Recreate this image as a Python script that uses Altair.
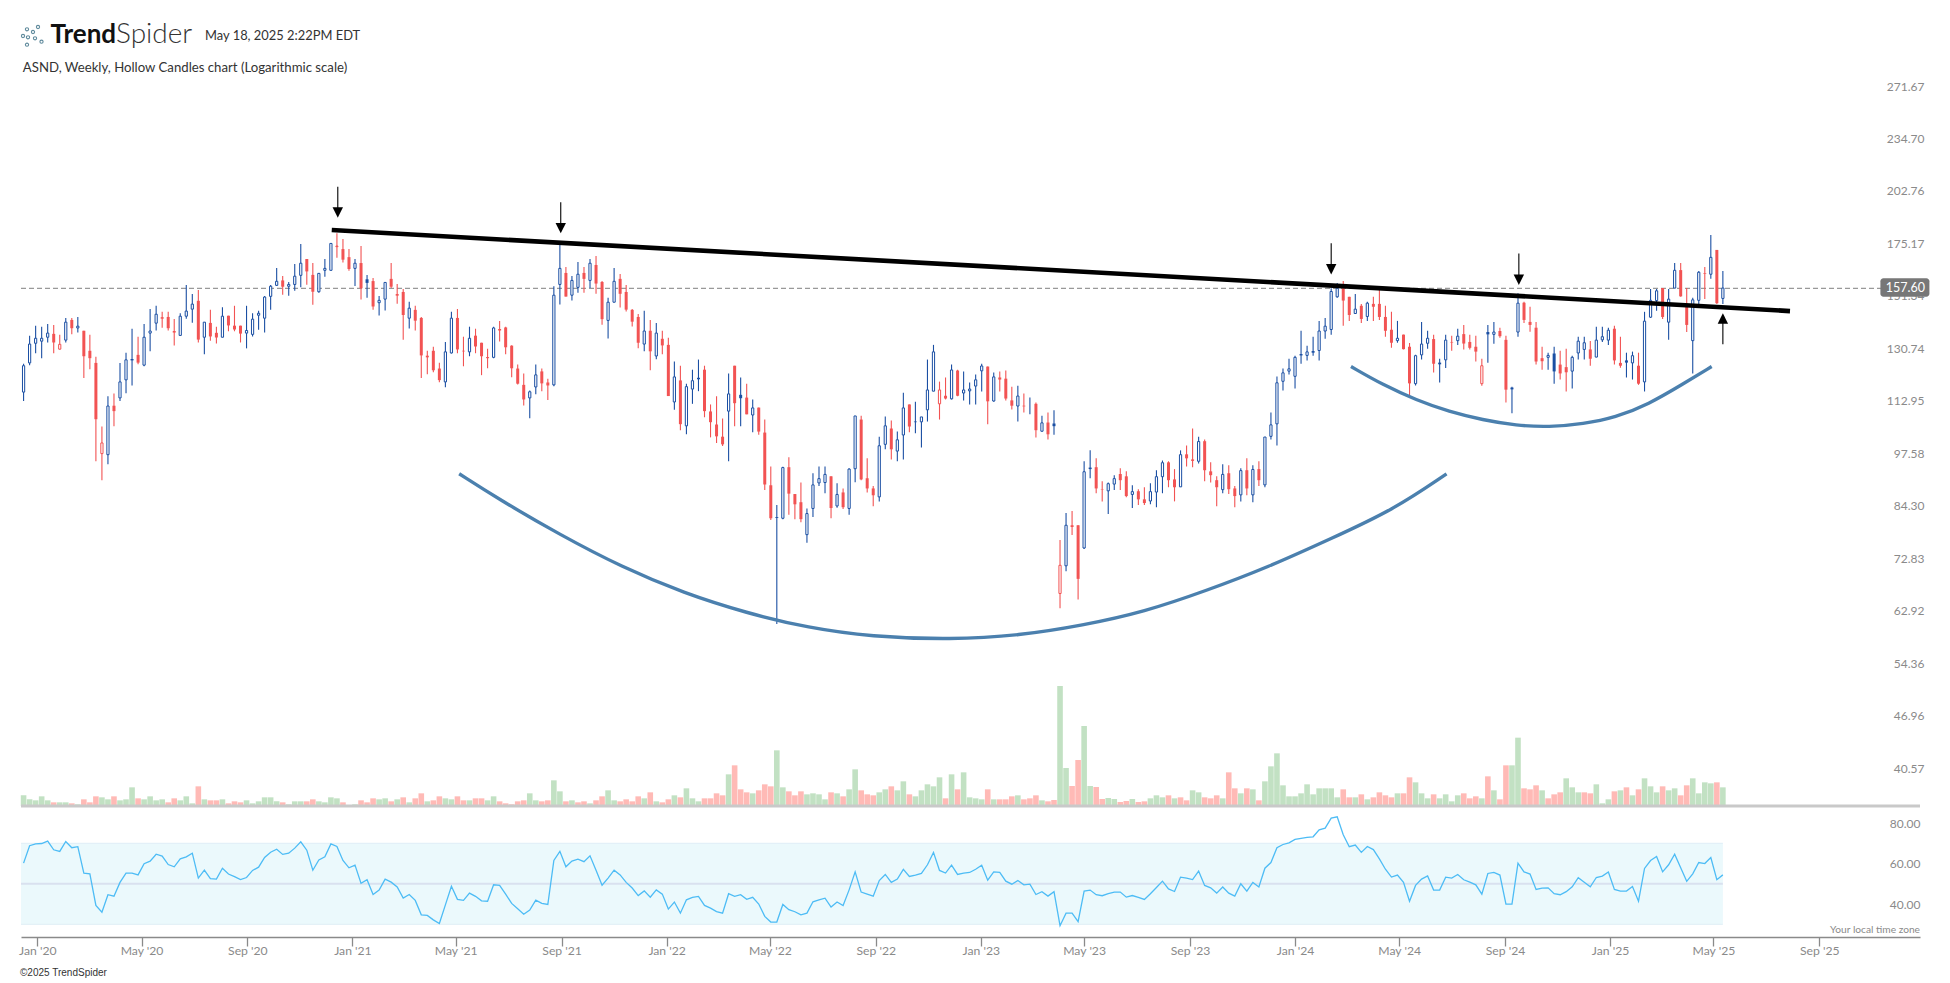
import altair as alt
import pandas as pd

FONT = "Lato"

highs = [
127.7,138.1,142.0,141.6,142.7,142.3,138.5,145.1,145.1,145.5,
140.0,138.5,130.2,107.2,116.6,117.5,128.0,131.7,140.8,137.7,
142.7,148.8,150.1,147.6,147.6,144.7,147.0,159.0,155.1,156.8,
143.4,148.4,141.6,149.5,146.0,150.1,142.0,150.1,147.0,148.0,
154.3,159.0,166.8,163.1,160.4,168.6,178.3,171.0,169.1,164.3,
171.0,178.6,183.7,180.8,175.8,171.0,177.3,163.6,162.2,154.3,
160.2,169.1,159.5,157.3,151.8,150.1,145.5,132.4,133.9,128.1,
135.7,147.6,148.8,137.7,141.6,140.8,135.4,133.2,141.6,143.9,
141.6,134.5,127.4,124.3,118.5,127.4,126.0,122.5,158.5,178.3,
167.2,163.1,169.6,167.2,171.0,172.4,160.8,153.5,166.8,164.0,
159.0,148.8,146.7,148.0,144.3,143.1,140.0,137.3,128.5,127.0,
120.8,125.6,129.2,127.0,114.0,116.6,109.6,124.3,127.0,122.9,
120.8,115.6,113.0,109.3,95.9,86.1,95.8,98.4,88.8,91.7,
85.3,94.1,95.9,95.9,93.3,91.5,90.2,95.4,110.4,110.5,
98.1,90.8,104.2,110.2,109.0,105.7,117.8,114.0,114.9,110.1,
129.2,134.6,121.5,122.9,127.4,125.6,125.0,121.2,123.9,127.7,
126.7,124.6,125.0,125.3,119.8,120.1,117.5,116.2,114.6,110.5,
111.5,112.2,78.1,84.2,84.7,81.4,97.3,100.3,98.1,92.0,
91.7,93.6,95.4,94.6,91.0,90.0,90.5,91.5,94.9,97.5,
97.3,95.2,100.3,101.7,106.6,104.2,103.4,97.0,93.3,96.5,
96.2,90.8,95.4,98.1,96.2,97.3,104.1,111.5,123.2,126.0,
129.5,130.6,140.0,134.3,137.7,143.9,145.1,157.6,160.0,160.8,
153.9,155.1,150.9,151.8,153.9,156.8,150.1,147.6,143.9,138.5,
135.3,130.9,143.5,140.0,138.5,129.5,138.5,138.1,140.8,142.3,
138.5,138.1,129.5,142.3,143.5,141.2,138.1,119.8,155.4,151.8,
149.7,143.5,133.9,131.7,133.9,132.4,133.2,130.6,137.7,137.7,
136.1,141.6,141.6,141.2,142.0,137.7,131.7,132.1,131.7,147.6,
157.3,157.3,157.7,157.3,169.1,169.1,157.7,153.5,165.4,167.2,
182.9,175.4,165.4]

lows = [
115.1,127.2,131.5,129.7,135.5,131.5,132.9,135.5,138.6,139.3,
122.7,125.8,97.3,92.3,96.5,107.3,115.1,117.6,120.2,127.5,
126.8,132.2,140.1,141.2,140.1,134.4,138.2,144.8,143.2,135.5,
131.1,136.2,135.1,137.5,139.8,139.8,135.5,133.3,137.8,140.4,
139.3,148.5,158.6,154.8,154.4,156.5,158.1,159.2,150.5,155.7,
162.8,165.7,171.6,169.3,165.5,158.6,152.7,153.5,148.5,146.1,
148.1,157.7,151.0,136.5,140.9,140.1,122.7,124.0,124.7,121.3,
119.6,131.4,131.5,126.8,130.4,131.5,123.7,126.1,129.7,135.9,
131.1,123.0,120.5,113.7,109.7,117.3,118.3,115.4,119.9,150.6,
154.0,152.3,155.7,155.7,157.7,155.2,142.4,137.0,151.6,149.4,
147.7,141.7,133.3,132.2,125.4,129.3,131.1,116.7,112.3,106.1,
104.9,114.2,118.3,110.0,104.0,102.4,101.5,97.3,107.3,107.3,
110.9,105.5,104.8,89.8,82.6,61.8,82.8,83.8,82.8,82.1,
77.5,83.3,90.8,89.0,83.0,85.5,85.2,83.8,91.8,92.3,
89.2,85.8,87.0,100.6,97.8,97.3,97.8,105.5,105.2,101.1,
108.7,118.3,109.3,115.6,115.6,116.6,115.3,114.0,114.0,118.2,
107.9,114.9,118.2,115.3,112.4,108.7,111.5,110.9,104.0,105.7,
103.4,104.8,64.6,71.6,79.2,66.2,76.2,92.8,89.0,87.0,
84.0,89.8,89.8,88.0,85.4,86.1,86.1,86.3,85.6,89.0,
90.5,87.0,90.6,95.9,95.7,96.7,92.0,91.7,85.8,89.0,
88.8,85.6,87.0,88.5,86.8,90.8,90.5,103.4,101.7,118.5,
123.9,119.2,127.7,128.9,130.6,128.9,136.9,138.5,153.5,142.0,
143.9,146.7,143.1,143.9,143.9,144.3,137.7,133.5,135.4,132.9,
117.0,120.2,129.2,133.2,124.6,121.2,126.2,132.4,134.6,132.9,
132.9,128.5,120.1,128.1,135.0,137.3,114.6,111.2,137.7,143.1,
139.6,127.4,125.6,125.6,120.8,122.2,118.2,119.2,129.2,129.2,
127.0,130.0,135.7,134.6,127.4,126.3,122.9,122.2,120.4,118.2,
145.1,148.0,144.7,136.5,157.6,153.9,139.5,124.3,150.5,153.0,
161.8,150.9,150.9]

body_high = [
127.0,134.9,137.1,137.1,139.1,138.8,134.8,143.4,144.3,141.8,
140.0,132.4,128.0,102.4,113.5,113.6,121.4,129.1,129.4,130.9,
137.5,139.9,146.6,145.4,145.5,139.9,145.8,147.9,150.8,152.2,
143.4,143.1,139.2,145.8,146.0,142.0,142.0,140.1,144.6,147.0,
153.8,158.5,160.7,161.1,159.3,163.0,169.0,171.0,163.6,164.3,
166.6,178.6,177.3,175.8,171.9,169.0,169.1,161.6,160.8,152.4,
160.2,161.8,155.1,156.0,149.1,148.4,145.1,130.6,132.4,126.0,
132.0,145.0,145.1,132.4,137.1,138.1,135.4,130.1,141.1,140.7,
141.3,134.3,126.0,120.4,118.1,123.8,125.0,121.2,154.6,166.6,
164.5,161.1,163.9,164.5,169.0,168.2,160.4,151.6,160.7,161.8,
156.0,148.4,145.5,139.9,140.0,139.1,136.9,134.6,123.1,121.9,
119.8,121.8,122.8,125.6,111.8,107.8,104.2,117.4,127.0,117.1,
116.2,112.9,113.0,105.4,91.0,83.3,95.6,95.7,88.8,86.8,
84.1,91.1,92.7,93.8,93.3,88.7,89.2,95.2,110.4,109.3,
92.8,90.2,101.6,107.4,106.6,103.3,112.9,114.0,108.7,110.1,
118.7,132.0,118.7,116.8,125.5,125.3,118.7,119.0,122.1,126.9,
126.7,123.1,122.9,122.5,115.3,116.7,113.6,114.2,114.2,108.3,
108.4,108.1,72.8,81.4,81.4,81.4,94.5,95.6,95.7,90.0,
91.4,92.7,93.9,93.3,89.4,89.5,87.5,89.4,93.2,96.9,
97.0,92.5,99.1,99.2,97.8,102.8,102.9,94.6,92.3,93.8,
94.1,90.2,94.8,94.9,95.1,95.2,104.1,107.7,121.1,124.5,
125.9,130.0,131.2,132.0,132.3,139.9,141.8,156.2,157.6,157.6,
153.9,148.7,150.1,151.2,150.9,150.9,145.5,140.4,137.1,138.5,
133.9,130.6,134.9,137.1,136.8,128.1,136.4,135.7,137.9,138.7,
135.7,133.9,127.0,139.5,139.5,139.9,136.5,119.5,151.2,151.4,
143.5,141.2,129.7,130.7,131.4,127.4,126.5,130.0,136.0,135.4,
132.9,136.4,137.7,140.2,140.8,128.0,128.9,130.6,127.0,143.8,
152.4,156.5,157.7,152.9,165.7,165.8,150.9,152.6,164.8,164.3,
171.8,175.4,157.7]

body_low = [
118.0,128.0,135.2,136.0,137.5,135.5,133.0,136.4,141.0,141.1,
130.4,129.7,109.4,99.4,99.1,111.9,116.1,122.1,128.9,128.1,
127.2,139.1,143.0,144.8,141.0,139.3,138.2,145.8,148.7,136.6,
137.5,137.8,137.4,137.5,142.1,140.5,138.9,139.1,138.6,146.2,
145.0,154.1,158.9,158.3,158.5,159.3,163.4,165.2,156.1,156.1,
165.7,165.7,177.0,170.7,166.3,166.6,157.6,160.0,149.8,151.4,
152.9,158.3,154.4,146.3,145.0,144.0,130.7,130.0,125.4,122.0,
121.4,131.6,132.9,132.2,132.0,134.0,130.4,129.7,130.0,140.1,
133.7,126.1,120.8,115.6,116.1,119.7,120.9,120.2,120.4,159.3,
154.0,154.6,158.0,161.8,161.1,159.7,144.6,144.1,151.6,155.2,
148.5,143.6,135.4,134.9,132.2,130.5,134.4,116.7,114.8,107.9,
107.4,119.0,122.3,111.9,108.5,104.3,102.0,111.9,114.4,116.0,
110.9,110.7,105.7,91.2,83.0,83.1,83.0,88.9,86.3,82.8,
79.3,85.3,91.6,91.7,85.4,85.9,85.6,85.3,95.3,92.5,
90.2,88.5,88.1,102.0,100.6,100.1,104.7,107.2,108.5,108.6,
112.3,118.3,114.2,115.9,115.8,116.8,117.7,118.4,120.0,125.2,
115.0,115.1,122.2,115.9,113.6,113.5,113.4,114.2,106.1,105.8,
104.9,107.3,67.3,72.7,81.0,70.1,76.4,95.2,90.2,89.9,
89.6,91.3,92.3,88.3,88.7,87.5,86.6,87.1,89.3,93.2,
92.3,90.5,90.6,98.1,97.4,97.3,94.9,93.6,90.5,89.9,
90.0,88.3,88.6,90.2,88.6,92.3,91.1,104.3,108.0,121.6,
125.1,123.3,130.7,130.7,131.7,132.5,139.9,140.5,153.9,152.3,
146.3,146.9,144.7,145.7,149.7,145.5,140.0,135.4,136.2,133.0,
120.9,120.8,130.9,135.2,127.7,127.5,129.1,135.5,136.2,135.1,
133.5,132.1,120.8,138.6,138.6,137.9,118.8,118.9,139.5,144.3,
142.3,128.5,128.6,130.0,125.0,124.3,124.7,125.1,131.6,132.9,
129.5,130.1,136.5,136.4,128.9,127.0,128.1,128.0,120.8,121.4,
145.4,152.3,145.5,143.4,157.7,154.1,142.3,136.2,152.4,164.0,
163.9,151.2,153.2]

# B hollow blue, b filled blue, R hollow red, r filled red
kinds = list(
"BBBBBrRBrB" "rrrRBrBBbr" "BBBrrrBBBr" "BrrBrrrBBB" "BBBrBBBrrB"
"BBRrrBrbrB" "BrrrBrrrrr" "BBrrBrrrBr" "rrrrBBrrBB" "rBBrBrrBBr"
"rrrBrBrrBr" "BBbrrrrBrb" "rBrrrbBrrr" "BBBBrBrBBr" "rrBBrBBrbB"
"BBRrBrBBBB" "rBrrrBrbrB" "rbRBrrBbrr" "BBrrBrrBBB" "rrBrrBrrrB"
"rrBrBrBBBB" "BBbBbBBBBr" "rBrBrrrrBr" "rBBBrbBrBr" "rrRbBrrbBr"
"rrrBbrrBBB" "rBBBrrbBrB" "BBrBBrrBBr" "BrB")

# ---------- volume (relative to the tallest week) ----------
volume = [
32,20,17,29,17,11,11,11,8,5,
20,11,29,26,20,29,17,20,56,23,
20,29,17,20,11,23,17,29,8,59,
20,17,17,20,8,14,11,17,8,14,
26,26,14,11,5,14,14,14,20,14,
11,26,23,11,2,5,17,11,23,20,
23,14,20,26,11,23,38,14,17,29,
23,20,29,17,17,23,23,17,29,14,
8,5,14,17,38,17,14,17,77,44,
14,17,11,14,8,17,29,47,17,14,
20,14,29,23,41,14,11,20,32,26,
53,23,14,23,23,38,32,95,122,50,
41,38,47,65,59,167,56,44,32,44,
35,38,35,20,41,38,29,50,110,47,
35,32,41,50,59,47,74,35,29,47,
65,59,86,23,95,50,101,26,23,20,
50,20,20,20,29,32,20,23,32,17,
14,18,360,114,60,138,240,60,57,21,
24,21,12,15,21,12,14,23,32,26,
32,23,26,17,47,41,26,23,32,23,
101,53,38,53,50,17,74,119,158,62,
29,29,38,65,35,53,53,53,26,50,
26,26,35,20,26,41,32,26,38,38,
86,71,38,23,35,23,35,14,32,38,
23,29,23,89,47,20,122,122,205,53,
50,62,47,23,35,41,83,56,41,41,
38,65,8,20,44,47,56,32,50,83,
59,41,59,47,53,32,62,83,38,71,
68,71,56]

volume_side = list(
"GGGGGRGGRG" "RRRGGRGGGR" "GGGGRRGGGR" "GRRGRRRGGG" "GGGRGGGRRG"
"GGGRRGRRRG" "GRGRGRRGRR" "GGRRGRRGGR" "RRRRGGRRGG" "RGRRGRRGGR"
"RRRGRGRRGR" "GGGRRRRGRR" "RGRRRGGRRR" "GGGGRGRGGR" "RRGGRGGRGG"
"GGGRGRGGGG" "RGRRRGRRRG" "RRGGRRGGRR" "GGRRGRRGGG" "RGRRGGRRRG"
"RRGRGRGGGG" "GGGGGGGGGR" "RGRGRRRRGR" "RGGGRGGGGR" "RRGRGRRGGR"
"RRGRRRGGGR" "RGGGRGRGRG" "GGRGGRRGGG" "GRG")

# ---------- RSI ----------
rsi = [
60.2,68.8,69.7,69.9,71.1,66.8,66.0,70.9,67.8,68.3,
55.3,54.9,39.3,36.0,44.6,43.9,50.7,55.3,55.3,54.4,
59.9,61.2,64.6,63.7,59.5,58.4,62.3,63.3,65.1,52.8,
56.7,52.5,52.3,57.7,54.8,53.5,52.1,53.1,56.6,58.2,
63.0,65.6,67.1,64.5,65.1,67.6,70.7,66.6,56.7,61.8,
63.3,69.7,68.4,61.5,57.9,59.2,50.2,52.0,44.7,46.9,
52.3,50.8,48.4,42.9,44.7,41.8,34.7,34.4,32.2,30.4,
39.6,48.8,42.3,41.8,45.4,43.8,41.6,41.4,49.5,49.2,
44.9,40.3,37.7,35.0,37.0,41.9,40.3,39.8,61.5,66.0,
58.4,61.2,62.2,60.9,63.8,56.7,49.3,52.8,56.7,54.4,
50.7,47.9,44.2,46.5,43.4,
47.0,44.9,37.5,41.0,35.5,42.1,43.3,43.8,39.3,38.0,
36.3,35.5,45.1,43.8,44.6,42.3,43.3,40.0,33.9,31.1,
31.1,39.8,37.2,36.2,34.7,35.5,41.1,42.1,42.9,38.5,
41.0,39.3,47.0,55.9,45.9,44.9,43.9,51.6,54.6,50.7,
52.3,57.1,53.6,54.3,55.1,59.4,65.5,56.6,55.3,59.2,
54.6,55.3,55.6,57.2,59.2,51.8,55.9,55.6,51.3,49.8,
51.6,49.5,49.8,44.7,46.1,43.9,46.1,29.3,35.5,35.5,
31.3,46.4,46.9,44.6,44.1,45.1,45.9,45.9,43.4,44.2,
43.3,42.3,45.1,48.2,51.3,47.5,46.2,53.3,52.8,52.1,
56.3,49.2,48.0,45.4,48.4,45.4,43.9,50.0,46.4,50.7,
48.4,57.7,60.5,67.8,69.4,70.2,71.9,
72.4,72.9,73.2,76.6,77.5,82.4,83.1,74.2,
68.3,69.1,65.5,68.4,66.9,62.3,57.2,53.3,54.3,50.7,
41.4,49.2,52.3,53.9,46.9,46.9,53.3,52.8,54.6,52.0,
50.8,49.5,44.9,55.1,55.6,54.3,40.0,40.0,60.2,55.9,
54.8,47.2,47.9,48.0,45.1,44.6,46.1,48.5,53.0,50.8,
48.5,53.1,53.8,55.8,47.2,46.4,46.4,48.7,41.4,57.6,
61.5,63.5,55.9,59.4,64.6,57.9,51.2,54.9,60.5,60.0,
63.0,52.0,54.4]

# ---------- hand-drawn annotations ----------
trend_dates = ["2020-12-08", "2025-07-29"]
trend_prices = [185.4, 147.9]

big_cup_dates = ["2021-05-05","2021-06-19","2021-08-30","2021-11-10","2022-01-21","2022-04-04",
                 "2022-06-15","2022-08-26","2022-11-28","2023-02-15","2023-04-29","2023-07-10",
                 "2023-09-20","2023-12-01","2024-02-12","2024-04-24","2024-06-25"]
big_cup_prices = [93.96,87.66,79.27,72.44,67.36,63.72,61.13,59.67,59.15,59.86,61.56,63.93,67.83,72.44,78.45,84.96,93.96]

small_cup_dates = ["2024-03-06","2024-04-12","2024-05-21","2024-06-28","2024-08-06","2024-09-14",
                   "2024-10-22","2024-12-01","2025-01-07","2025-02-15","2025-03-25","2025-04-29"]
small_cup_prices = [126.7,120.4,115.4,111.7,109.2,107.5,107.0,108.0,109.9,114.1,120.4,126.7]

arrow_dates = ["2020-12-15","2021-08-31","2024-02-12","2024-09-17"]
arrow_tails = [209.2,200.3,178.7,173.6]
arrow_heads = [194.7,186.4,166.2,161.4]
up_arrow_date = ["2025-05-12"]
up_arrow_tail = [134.8]
up_arrow_head = [144.9]

last_price = 157.60
price_ticks = [271.67,234.70,202.76,175.17,151.34,130.74,112.95,97.58,84.30,72.83,62.92,54.36,46.96,40.57]
rsi_ticks = [40, 60, 80]
first_tick_months = [(y, m) for y in range(2020, 2026) for m in (1, 5, 9)]

dates = pd.date_range("2019-12-16", periods=len(highs), freq="7D")
candles = pd.DataFrame({"date": dates, "high": highs, "low": lows, "top": body_high,
                        "bottom": body_low, "kind": kinds})
vol_df = pd.DataFrame({"date": dates, "volume": volume, "side": volume_side})
rsi_df = pd.DataFrame({"date": dates, "rsi": rsi})

BLUE, RED = "#1b4fa3", "#f25353"
GRAY = "#8a8a8a"
x_scale = alt.Scale(domain=["2019-12-13", "2025-12-27"], range=[0, 1899], padding=0)
x_axis = alt.Axis(
    title=None, values=[alt.DateTime(year=y, month=m, date=1) for y, m in first_tick_months],
    format="%b '%y", grid=False, domainColor=GRAY, domainWidth=1.5, tickColor=GRAY, tickWidth=1.3,
    tickSize=9, labelColor=GRAY, labelFont=FONT, labelFontSize=12.2, labelPadding=-2,
    labelFlush=False, labelOverlap=False)
X = alt.X("date:T", scale=x_scale, axis=x_axis)

price_scale = alt.Scale(type="log", domain=[40.57, 271.67], range=[767, 85], nice=False)
price_axis = alt.Axis(
    title=None, orient="right", values=price_ticks, format=".2f", grid=False, domain=False, ticks=False,
    labelColor=GRAY, labelFont=FONT, labelFontSize=12, labelAlign="right", labelBaseline="middle",
    labelPadding=4, labelOffset=-7, labelFlush=False, labelOverlap=False)
Y = alt.Y("low:Q", scale=price_scale, axis=price_axis)

base = alt.Chart(candles)
wick_blue = base.transform_filter("datum.kind=='B'||datum.kind=='b'").mark_rule(color=BLUE, strokeWidth=1.1).encode(x=X, y=Y, y2="high:Q")
wick_red = base.transform_filter("datum.kind=='R'||datum.kind=='r'").mark_rule(color=RED, strokeWidth=1.1).encode(x=X, y=Y, y2="high:Q")
Yb = alt.Y("bottom:Q", scale=price_scale, axis=price_axis)
body_B = base.transform_filter("datum.kind=='B'").mark_bar(size=2.2, fill="#ffffff", stroke=BLUE, strokeWidth=1).encode(x=X, y=Yb, y2="top:Q")
body_b = base.transform_filter("datum.kind=='b'").mark_bar(size=3, color=BLUE).encode(x=X, y=Yb, y2="top:Q")
body_R = base.transform_filter("datum.kind=='R'").mark_bar(size=2.2, fill="#ffffff", stroke=RED, strokeWidth=1).encode(x=X, y=Yb, y2="top:Q")
body_r = base.transform_filter("datum.kind=='r'").mark_bar(size=3, color=RED).encode(x=X, y=Yb, y2="top:Q")

Yp = alt.Y("p:Q", scale=price_scale, axis=price_axis)
last_line = alt.Chart(pd.DataFrame({"p": [last_price]})).mark_rule(
    color="#999999", strokeWidth=1.2, strokeDash=[5, 3]).encode(y=Yp, x=alt.value(0), x2=alt.value(1860))

big_cup = alt.Chart(pd.DataFrame({"date": pd.to_datetime(big_cup_dates), "p": big_cup_prices})).mark_line(
    color="#4b80ae", strokeWidth=3.4, interpolate="basis").encode(x=X, y=Yp)
small_cup = alt.Chart(pd.DataFrame({"date": pd.to_datetime(small_cup_dates), "p": small_cup_prices})).mark_line(
    color="#4b80ae", strokeWidth=3.4, interpolate="basis").encode(x=X, y=Yp)
trend = alt.Chart(pd.DataFrame({"date": pd.to_datetime(trend_dates), "p": trend_prices})).mark_line(
    color="#000000", strokeWidth=4.6).encode(x=X, y=Yp)

arrows_df = pd.DataFrame({"date": pd.to_datetime(arrow_dates + up_arrow_date),
                          "p": arrow_tails + up_arrow_tail, "h": arrow_heads + up_arrow_head})
arrow_shafts = alt.Chart(arrows_df).mark_rule(color="#000000", strokeWidth=1.1).encode(x=X, y=Yp, y2="h:Q")
heads_down = alt.Chart(pd.DataFrame({"date": pd.to_datetime(arrow_dates), "p": arrow_heads})).mark_point(
    shape="M-1,-1L1,-1L0,1Z", size=108, filled=True, color="#000000", opacity=1).encode(x=X, y=Yp)
heads_up = alt.Chart(pd.DataFrame({"date": pd.to_datetime(up_arrow_date), "p": up_arrow_head})).mark_point(
    shape="M-1,1L1,1L0,-1Z", size=108, filled=True, color="#000000", opacity=1).encode(x=X, y=Yp)

price_layer = alt.layer(last_line, wick_blue, wick_red, body_B, body_b, body_R, body_r,
                        big_cup, small_cup, trend, arrow_shafts, heads_down, heads_up)

# volume
vol_scale = alt.Scale(domain=[0, 360], range=[798, 678], nice=False)
Yv = alt.Y("volume:Q", scale=vol_scale, axis=None, stack=None)
vol_base = alt.Chart(vol_df)
vol_g = vol_base.transform_filter("datum.side=='G'").mark_bar(size=5.6, color="#c2e1c3").encode(x=X, y=Yv)
vol_r = vol_base.transform_filter("datum.side=='R'").mark_bar(size=5.6, color="#ffbab6").encode(x=X, y=Yv)
vol_floor = alt.Chart(pd.DataFrame({"volume": [0]})).mark_rule(color="#c9c9c9", strokeWidth=3).encode(
    y=Yv, x=alt.value(0), x2=alt.value(1899))
vol_layer = alt.layer(vol_g, vol_r, vol_floor)

# RSI
rsi_scale = alt.Scale(domain=[30, 85], range=[916.3, 804.9], nice=False, zero=False)
rsi_axis = alt.Axis(
    title=None, orient="right", values=rsi_ticks, format=".2f", grid=False, domain=False, ticks=False,
    labelColor=GRAY, labelFont=FONT, labelFontSize=12, labelAlign="right", labelBaseline="middle",
    labelPadding=0, labelOffset=0, labelFlush=False, labelOverlap=False)
Yr = alt.Y("rsi:Q", scale=rsi_scale, axis=rsi_axis)
band = alt.Chart(pd.DataFrame({"date": ["2019-12-13"], "end": ["2025-05-12"], "rsi": [30], "top": [70]})).mark_rect(
    color="#ebf9fc").encode(x=alt.X("date:T", scale=x_scale, axis=x_axis), x2="end:T", y=Yr, y2="top:Q")
band_rules = alt.Chart(pd.DataFrame({"date": ["2019-12-13"] * 3, "end": ["2025-05-12"] * 3, "rsi": [30, 50, 70],
                                     "w": [1, 2, 1], "c": ["#dfeef6", "#d9e1ef", "#dfeef6"]})).mark_rule().encode(
    x=X, x2="end:T", y=Yr, strokeWidth=alt.StrokeWidth("w:Q", scale=None, legend=None),
    color=alt.Color("c:N", scale=None, legend=None))
rsi_line = alt.Chart(rsi_df).mark_line(color="#4dbcf5", strokeWidth=1.3).encode(x=X, y=Yr)
rsi_layer = alt.layer(band, band_rules, rsi_line)

# decorations in page pixels
one = alt.Data(values=[{"k": 1}])
def label(txt, px, py, size, color="#333333", font=FONT, align="left", weight="normal"):
    return alt.Chart(one).mark_text(text=txt, font=font, fontSize=size, color=color, align=align,
                                    baseline="middle", fontWeight=weight).encode(
        x=alt.value(px - 21), y=alt.value(py - 8))

def circ(cx, cy, r=1.6):
    return f"M{cx+r},{cy}a{r},{r} 0 1,0 {-2*r},0a{r},{r} 0 1,0 {2*r},0Z"
logo_nodes = [(-5,-6.7),(6,-9),(1,-4),(-9,0),(-4,1.3),(3,2.3),(9.5,5.7),(-5,8.7)]
logo_path = "".join(circ(a, b) for a, b in logo_nodes)
logo = alt.Chart(one).mark_point(shape=logo_path, size=4, filled=False, stroke="#5f8a9c", strokeWidth=1.1,
                                 opacity=1).encode(x=alt.value(32 - 21), y=alt.value(36 - 8))

price_box = alt.Chart(one).mark_rect(color="#777777", cornerRadius=3).encode(
    x=alt.value(1859.4), x2=alt.value(1908.4), y=alt.value(270.3), y2=alt.value(288.7))

deco = alt.layer(
    logo,
    label("Trend", 50.5, 35, 26, "#111111", weight="bold"),
    label("Spider", 116, 35, 28, "#333333", weight=300),
    label("May 18, 2025 2:22PM EDT", 205, 35.7, 12.9),
    label("ASND, Weekly, Hollow Candles chart (Logarithmic scale)", 22.8, 67.7, 13.2),
    label("©2025 TrendSpider", 20, 973, 10, font="Liberation Sans"),
    label("Your local time zone", 1920, 930, 10.2, GRAY, align="right"),
    price_box,
    label("157.60", 1925, 287.5, 12.5, "#ffffff", align="right"),
)

chart = alt.layer(price_layer, vol_layer, rsi_layer, deco).resolve_scale(y="independent").properties(
    width=1899, height=929,
    padding={"left": 13, "top": 0, "right": 22, "bottom": 45},
    autosize=alt.AutoSizeParams(type="none"),
    background="#ffffff",
).configure_view(stroke=None)

chart.save("out.html", embed_options={"renderer": "svg", "actions": False})
